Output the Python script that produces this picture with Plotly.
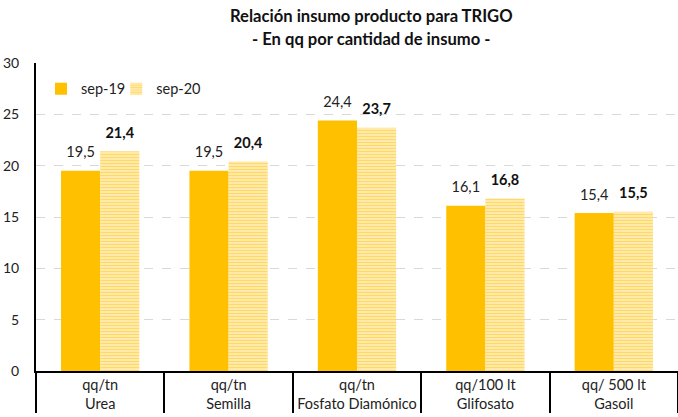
import plotly.graph_objects as go

insumos = ["Urea", "Semilla", "Fosfato Diamónico", "Glifosato", "Gasoil"]
unidades = ["qq/tn", "qq/tn", "qq/tn", "qq/100 lt", "qq/ 500 lt"]
sep19 = [19.5, 19.5, 24.4, 16.1, 15.4]
sep20 = [21.4, 20.4, 23.7, 16.8, 15.5]
yticks = [0, 5, 10, 15, 20, 25, 30]
title_1 = "Relación insumo producto para TRIGO"
title_2 = "- En qq por cantidad de insumo -"

FONT = "Lato"
GOLD = "#FFC000"
PALE = "#FFF2CC"

fig = go.Figure()
fig.add_trace(go.Bar(
    name="sep-19", x=[insumos, unidades], y=sep19, legend="legend",
    marker=dict(color=GOLD, line=dict(width=0)),
))
fig.add_trace(go.Bar(
    name="sep-20", x=[insumos, unidades], y=sep20, legend="legend2",
    marker=dict(color=PALE, line=dict(width=0),
                pattern=dict(shape="-", fgcolor=GOLD, bgcolor=PALE,
                             size=3, solidity=0.55, fillmode="overlay")),
))
# value labels (grouped scatter aligned with bars)
fig.add_trace(go.Scatter(
    x=[insumos, unidades], y=sep19, mode="markers+text", showlegend=False,
    marker=dict(size=14, opacity=0), texttemplate="%{y:.1f}", textposition="top center",
    textfont=dict(family=FONT, size=14.5, color="#222"), cliponaxis=False, hoverinfo="skip",
))
fig.add_trace(go.Scatter(
    x=[insumos, unidades], y=sep20, mode="markers+text", showlegend=False,
    marker=dict(size=14, opacity=0), texttemplate="<b>%{y:.1f}</b>", textposition="top center",
    textfont=dict(family=FONT, size=14.5, color="#111"), cliponaxis=False, hoverinfo="skip",
))

for txt, yy in [(title_1, 1.153), (title_2, 1.078)]:
    fig.add_annotation(text=f"<b>{txt}</b>", xref="paper", yref="paper", x=0.522, y=yy,
                       xanchor="center", yanchor="middle", showarrow=False,
                       font=dict(family=FONT, size=16.6, color="#111"))

leg_common = dict(orientation="h", y=0.916, xanchor="left", yanchor="middle",
                  font=dict(family=FONT, size=14.5, color="#222"),
                  bgcolor="rgba(0,0,0,0)")

fig.update_layout(
    width=678, height=417,
    separators=",.",
    barmode="group", bargap=0.39, bargroupgap=0,
    scattermode="group", scattergap=0.39,
    plot_bgcolor="white", paper_bgcolor="white",
    margin=dict(l=36, r=0, t=63, b=46),
    font=dict(family=FONT, size=14, color="#222"),
    legend=dict(x=0.0078, **leg_common),
    legend2=dict(x=0.125, **leg_common),
    xaxis=dict(type="multicategory", showline=True, linecolor="black", linewidth=2,
               showdividers=True, dividercolor="black", dividerwidth=2,
               tickfont=dict(family=FONT, size=14.5, color="#222"),
               ticks=""),
    yaxis=dict(range=[0, 30], tickvals=yticks, showgrid=True, gridcolor="#D9D9D9",
               griddash="dash", gridwidth=1, showline=True, linecolor="black",
               linewidth=2, zeroline=False, ticks="",
               tickfont=dict(family=FONT, size=14, color="#222"),
               ticklabelstandoff=12),
)

fig.write_html("out.html", config={"displayModeBar": False},
               post_script="document.body.style.margin='0';document.body.style.overflow='hidden';")
